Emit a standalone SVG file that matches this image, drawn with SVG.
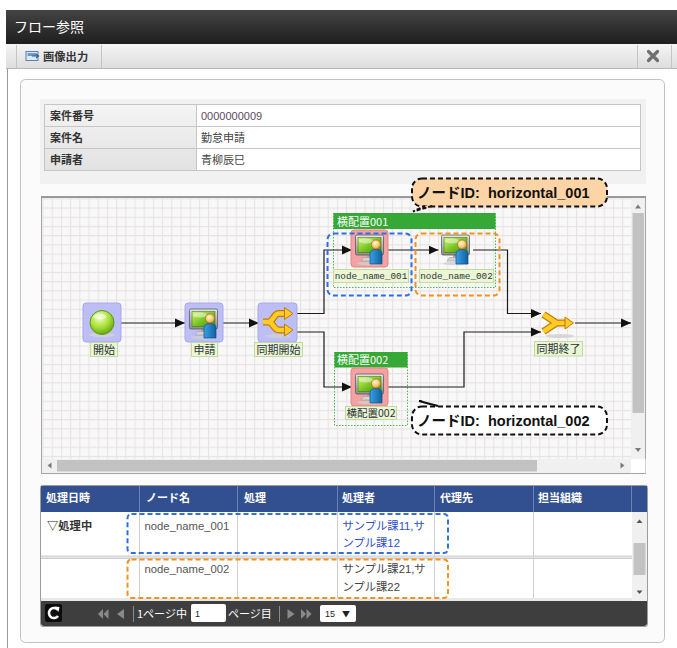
<svg xmlns="http://www.w3.org/2000/svg" width="677" height="648" viewBox="0 0 677 648">
<defs>
<style>
.jp{font-family:'Noto Sans CJK JP','Liberation Sans',sans-serif}
.ls{font-family:'Liberation Sans','Noto Sans CJK JP',sans-serif}
.mono{font-family:'Liberation Mono','DejaVu Sans Mono',monospace}
.pbox{fill:#bebef6;stroke:#a7a7ee;stroke-width:1}
.rbox{fill:#f2a2a2;stroke:#e58585;stroke-width:1}
.lbl{fill:#ebf6d2;stroke:#c4d9a2;stroke-width:1}
.lt{fill:#2b3340;text-anchor:middle}
.conn{fill:none;stroke:#1a1a1a;stroke-width:1.2}
.hdr{font-size:11px;font-weight:bold;fill:#fff}
.cell{font-size:11.3px}
.grn{fill:#35a835}
.dotc{fill:none;stroke:#4cbc4c;stroke-width:1;stroke-dasharray:1.5,1.5}
.sbt{fill:#f0f0f0}
.thumb{fill:#c2c2c2}
.sarr{fill:#7a7a7a}
</style>
<linearGradient id="gTitle" x1="0" y1="0" x2="0" y2="1"><stop offset="0" stop-color="#444"/><stop offset="1" stop-color="#1e1e1e"/></linearGradient>
<linearGradient id="gTool" x1="0" y1="0" x2="0" y2="1"><stop offset="0" stop-color="#f5f5f5"/><stop offset="1" stop-color="#dcdcdc"/></linearGradient>
<linearGradient id="gLab" x1="0" y1="0" x2="0" y2="1"><stop offset="0" stop-color="#f4f4f4"/><stop offset="1" stop-color="#e2e2e2"/></linearGradient>
<linearGradient id="gMon" x1="0" y1="0" x2="0" y2="1"><stop offset="0" stop-color="#e6e6e6"/><stop offset="1" stop-color="#8c8c8c"/></linearGradient>
<linearGradient id="gScr" x1="0" y1="0" x2="1" y2="1"><stop offset="0" stop-color="#d6f680"/><stop offset="0.5" stop-color="#7cc826"/><stop offset="1" stop-color="#3f8e10"/></linearGradient>
<linearGradient id="gBody" x1="0" y1="0" x2="1" y2="0"><stop offset="0" stop-color="#3aa0e6"/><stop offset="1" stop-color="#10609e"/></linearGradient>
<radialGradient id="gHead" cx="0.4" cy="0.35" r="0.7"><stop offset="0" stop-color="#fff4d8"/><stop offset="0.6" stop-color="#f8c872"/><stop offset="1" stop-color="#d88a20"/></radialGradient>
<radialGradient id="gBall" cx="0.4" cy="0.3" r="0.75"><stop offset="0" stop-color="#f2ffc0"/><stop offset="0.55" stop-color="#a6e036"/><stop offset="1" stop-color="#5e9e0e"/></radialGradient>
<pattern id="grid" patternUnits="userSpaceOnUse" x="42.5" y="198.3" width="9.2" height="9.2">
<rect width="9.2" height="9.2" fill="#f9f8f8"/>
<path d="M0 0.5 H9.2 M0.5 0 V9.2" stroke="#e8e3e3" stroke-width="1.1" fill="none"/>
</pattern>
<marker id="arr" viewBox="0 0 10 10" refX="10" refY="5" markerWidth="10" markerHeight="10" markerUnits="userSpaceOnUse" orient="auto"><path d="M0 0.5 L10 5 L0 9.5 Z" fill="#111"/></marker>
<g id="human">
<ellipse cx="19" cy="33.5" rx="13" ry="1.8" fill="#cfcfcf" opacity="0.8"/>
<path d="M10 31 L26 31 L23.5 27.5 L12.5 27.5 Z" fill="#d4d4d4" stroke="#9a9a9a" stroke-width="0.6"/>
<rect x="16" y="24" width="4" height="4" fill="#a8a8a8"/>
<rect x="4.5" y="5" width="28" height="20" rx="1.5" fill="url(#gMon)" stroke="#5a5a5a" stroke-width="0.8"/>
<rect x="7" y="7.5" width="23" height="15" fill="url(#gScr)" stroke="#3a6a10" stroke-width="0.5"/>
<ellipse cx="15" cy="11" rx="7" ry="2.5" fill="#fff" opacity="0.45"/>
<path d="M19 34 V24 Q19 19.5 25 19.5 Q31 19.5 31 24 V34 Z" fill="url(#gBody)" stroke="#0c4f85" stroke-width="0.7"/>
<circle cx="25" cy="14.5" r="4.6" fill="url(#gHead)" stroke="#b06a10" stroke-width="0.7"/>
</g>
</defs>

<!-- window -->
<rect x="0" y="0" width="677" height="648" fill="#ffffff"/>
<g id="titlebar">
<rect x="6" y="10" width="671" height="34" fill="url(#gTitle)"/>
<text x="14" y="32" class="jp" font-size="14" fill="#ffffff">フロー参照</text>
</g>
<g id="toolbar">
<rect x="6" y="44" width="671" height="25" fill="url(#gTool)"/>
<line x1="6" y1="68.5" x2="677" y2="68.5" stroke="#b8b8b8"/>
<line x1="16.5" y1="45" x2="16.5" y2="68" stroke="#c4c4c4"/>
<line x1="101.5" y1="45" x2="101.5" y2="68" stroke="#c4c4c4"/>
<rect x="26" y="51.5" width="12" height="9" fill="#dfe9f5" stroke="#5b7fb0" stroke-width="1"/>
<rect x="27.5" y="53" width="9" height="3" fill="#6e96cf"/>
<path d="M32 56 H38 M36 54 L38.5 56 L36 58" stroke="#2f5f9f" stroke-width="1.2" fill="none"/>
<text x="43" y="61" class="jp" font-size="11.3" font-weight="bold" fill="#333">画像出力</text>
<line x1="637.5" y1="45" x2="637.5" y2="68" stroke="#c4c4c4"/>
<line x1="671.5" y1="45" x2="671.5" y2="68" stroke="#c4c4c4"/>
<path d="M648.5 51.5 L657.5 60.5 M657.5 51.5 L648.5 60.5" stroke="#707070" stroke-width="3.2" stroke-linecap="round"/>
</g>
<line x1="7.5" y1="69" x2="7.5" y2="648" stroke="#9a9a9a"/>

<!-- panel -->
<rect x="20.5" y="79.5" width="644" height="563" rx="5" fill="#fbfbfc" stroke="#c2c2c2"/>

<g id="info">
<rect x="40" y="99" width="606" height="85" fill="#f1f1f1"/>
<rect x="44.5" y="104.5" width="596" height="66" fill="#ffffff" stroke="#c6c6c6"/>
<rect x="44.5" y="104.5" width="152" height="66" fill="url(#gLab)" stroke="#c6c6c6"/>
<line x1="44.5" y1="126.5" x2="640.5" y2="126.5" stroke="#c6c6c6"/>
<line x1="44.5" y1="148.5" x2="640.5" y2="148.5" stroke="#c6c6c6"/>
<g class="jp" font-size="11" font-weight="bold" fill="#333">
<text x="50" y="119.5">案件番号</text>
<text x="50" y="141.5">案件名</text>
<text x="50" y="163.5">申請者</text>
</g>
<g class="ls" font-size="11" fill="#444">
<text x="201" y="119.5" fill="#5a4a62">0000000009</text>
<text x="201" y="141.5">勤怠申請</text>
<text x="201" y="163.5">青柳辰巳</text>
</g>
</g>

<!-- flow area -->
<g id="flowframe">
<rect x="41.5" y="196.5" width="604" height="277" fill="url(#grid)" stroke="#a4a4a4"/>
<line x1="41" y1="197" x2="646" y2="197" stroke="#9a9a9a" stroke-width="2"/>
<rect x="631" y="198" width="14" height="261" class="sbt"/>
<rect x="632.5" y="213" width="11.5" height="200" class="thumb"/>
<path d="M635 208.5 L641 208.5 L638 204.5 Z" class="sarr"/>
<path d="M635 448 L641 448 L638 452 Z" class="sarr"/>
<rect x="42" y="459" width="589" height="14" class="sbt"/>
<rect x="57" y="460" width="480" height="11.5" class="thumb"/>
<path d="M51.5 462.5 L51.5 468.5 L47.5 465.5 Z" class="sarr"/>
<path d="M620.5 462.5 L620.5 468.5 L624.5 465.5 Z" class="sarr"/>
<rect x="631" y="459" width="14.5" height="14" fill="#ffffff"/>
</g>

<!-- containers -->
<g id="horizontal_001">
<rect x="333.5" y="213.5" width="162" height="74" class="dotc"/>
<rect x="333.5" y="213" width="162" height="16" class="grn"/>
<text x="337" y="225.5" class="jp" font-size="11" fill="#ffffff">横配置001</text>
</g>
<g id="horizontal_002">
<rect x="334.5" y="352.5" width="73" height="73" class="dotc"/>
<rect x="334.5" y="352" width="73" height="15.5" class="grn"/>
<text x="337" y="364" class="jp" font-size="11" fill="#ffffff">横配置002</text>
</g>

<!-- connectors -->
<g id="connectors">
<path class="conn" d="M121 323 H185" marker-end="url(#arr)"/>
<path class="conn" d="M221 323 H259" marker-end="url(#arr)"/>
<path class="conn" d="M296 313.5 H324 V250 H352" marker-end="url(#arr)"/>
<path class="conn" d="M296 332 H324 V387 H352" marker-end="url(#arr)"/>
<path class="conn" d="M387 250 H438.5" marker-end="url(#arr)"/>
<path class="conn" d="M473 250 H507.5 V313.5 H541" marker-end="url(#arr)"/>
<path class="conn" d="M387 387 H464 V332 H541" marker-end="url(#arr)"/>
<path class="conn" d="M575 323 H631" marker-end="url(#arr)"/>
</g>

<!-- nodes -->
<g id="n-start">
<rect x="83" y="303" width="38" height="39" rx="3" class="pbox"/>
<ellipse cx="102" cy="335" rx="13" ry="2" fill="#d4d4d4" opacity="0.8"/>
<circle cx="102" cy="322.5" r="12" fill="url(#gBall)" stroke="#5b9a12" stroke-width="1"/>
<ellipse cx="100" cy="316.5" rx="6.5" ry="3" fill="#ffffff" opacity="0.5"/>
<rect x="90.5" y="342.5" width="27" height="14" class="lbl"/>
<text x="104" y="353.5" class="jp lt" font-size="11">開始</text>
</g>

<g id="n-apply">
<rect x="185" y="303" width="38" height="39" rx="3" class="pbox"/>
<use href="#human" x="185" y="304"/>
<rect x="191.5" y="342.5" width="26" height="14" class="lbl"/>
<text x="204.5" y="353.5" class="jp lt" font-size="11">申請</text>
</g>

<g id="n-fork">
<rect x="258" y="303" width="39" height="39" rx="3" class="pbox"/>
<ellipse cx="278" cy="336" rx="13" ry="2" fill="#cfcfcf" opacity="0.8"/>
<path d="M263 322 H268 C274 322 273 313.5 279 313.5 H286 M268 322 C274 322 273 330 279 330 H286" fill="none" stroke="#c47a00" stroke-width="7"/>
<path d="M263 322 H268 C274 322 273 313.5 279 313.5 H286 M268 322 C274 322 273 330 279 330 H286" fill="none" stroke="#ffcb26" stroke-width="4.5"/>
<path d="M284.5 307.5 L293 313.5 L284.5 319.5 Z" fill="#ffcb26" stroke="#c47a00" stroke-width="1"/>
<path d="M284.5 324 L293 330 L284.5 336 Z" fill="#ffcb26" stroke="#c47a00" stroke-width="1"/>
<rect x="254.5" y="342.5" width="48" height="14" class="lbl"/>
<text x="278.5" y="353.5" class="jp lt" font-size="11">同期開始</text>
</g>

<g id="node_name_001">
<rect x="351" y="230" width="37" height="37" rx="3" class="rbox"/>
<use href="#human" x="351" y="230"/>
<rect x="333.5" y="269.5" width="75" height="13" class="lbl"/>
<text x="371" y="279" class="mono lt" font-size="9.3">node_name_001</text>
</g>

<g id="node_name_002">
<use href="#human" x="437" y="230"/>
<rect x="419.5" y="269.5" width="74" height="13" class="lbl"/>
<text x="456.5" y="279" class="mono lt" font-size="9.3">node_name_002</text>
</g>

<g id="n-h002">
<rect x="351" y="368" width="37" height="38" rx="3" class="rbox"/>
<use href="#human" x="351" y="369"/>
<rect x="345.5" y="406.5" width="51" height="13" class="lbl"/>
<text x="371" y="416.5" class="jp lt" font-size="10.5">横配置002</text>
</g>

<g id="n-join">
<ellipse cx="560" cy="336" rx="14" ry="2" fill="#cfcfcf" opacity="0.8"/>
<path d="M543.5 314.5 L556.5 323 M543.5 331.5 L556.5 323 H566" fill="none" stroke="#c47a00" stroke-width="7" stroke-linejoin="round"/>
<path d="M543.5 314.5 L556.5 323 M543.5 331.5 L556.5 323 H566" fill="none" stroke="#ffcb26" stroke-width="4.5" stroke-linejoin="round"/>
<path d="M565 317 L573.5 323 L565 329 Z" fill="#ffcb26" stroke="#c47a00" stroke-width="1"/>
<rect x="534.5" y="341.5" width="48" height="14.5" class="lbl"/>
<text x="558.5" y="352.5" class="jp lt" font-size="11">同期終了</text>
</g>

<!-- dashed highlight boxes -->
<rect x="327.5" y="233.5" width="84" height="62" rx="6" fill="none" stroke="#2f6fe0" stroke-width="2" stroke-dasharray="5,3"/>
<rect x="415.5" y="233.5" width="84" height="62" rx="6" fill="none" stroke="#f7901e" stroke-width="2" stroke-dasharray="5,3"/>

<!-- callouts -->
<g id="callout1">
<rect x="412" y="178.5" width="195" height="28" rx="10" fill="#fdd4a6" stroke="#111" stroke-width="2" stroke-dasharray="5,3"/>
<path d="M432 206 L413 211.5 L425 206" fill="#fdd4a6" stroke="#111" stroke-width="2" stroke-dasharray="4,2"/>
<text y="197.5" class="ls" font-size="14.5" font-weight="bold" fill="#111"><tspan x="417">ノードID:</tspan><tspan x="488">horizontal_001</tspan></text>
</g>
<g id="callout2">
<rect x="412" y="406.5" width="195" height="28" rx="10" fill="#ffffff" stroke="#111" stroke-width="2" stroke-dasharray="5,3"/>
<path d="M438 406 L419 401 L430 404" fill="none" stroke="#111" stroke-width="2"/>
<text y="425.5" class="ls" font-size="14.5" font-weight="bold" fill="#111"><tspan x="417">ノードID:</tspan><tspan x="488">horizontal_002</tspan></text>
</g>

<!-- history table -->
<g id="history">
<rect x="40.5" y="485.5" width="607" height="141" rx="2" fill="#ffffff" stroke="#9c9c9c"/>
<rect x="41" y="486" width="606" height="26" fill="#32508f"/>
<g stroke="#6a82b4" stroke-width="1">
<line x1="139.5" y1="486" x2="139.5" y2="512"/>
<line x1="237.5" y1="486" x2="237.5" y2="512"/>
<line x1="337.5" y1="486" x2="337.5" y2="512"/>
<line x1="434.5" y1="486" x2="434.5" y2="512"/>
<line x1="533.5" y1="486" x2="533.5" y2="512"/>
<line x1="631.5" y1="486" x2="631.5" y2="512"/>
</g>
<g class="jp hdr">
<text x="46" y="502">処理日時</text>
<text x="146" y="502">ノード名</text>
<text x="244" y="502">処理</text>
<text x="342" y="502">処理者</text>
<text x="440" y="502">代理先</text>
<text x="538" y="502">担当組織</text>
</g>
<rect x="41" y="556" width="591" height="2.5" fill="#e4e4e4"/>
<line x1="41" y1="556" x2="632" y2="556" stroke="#cfcfcf"/>
<line x1="41" y1="558.5" x2="632" y2="558.5" stroke="#cfcfcf"/>
<rect x="41" y="598" width="591" height="3" fill="#e8e8e8"/>
<g stroke="#cfcfcf" stroke-width="1">
<line x1="139.5" y1="512" x2="139.5" y2="598"/>
<line x1="237.5" y1="512" x2="237.5" y2="598"/>
<line x1="337.5" y1="512" x2="337.5" y2="598"/>
<line x1="434.5" y1="512" x2="434.5" y2="598"/>
<line x1="533.5" y1="512" x2="533.5" y2="598"/>
</g>
<rect x="632" y="512" width="15" height="89" class="sbt"/>
<rect x="633.5" y="543" width="12" height="32" class="thumb"/>
<path d="M636.5 523 L642.5 523 L639.5 519.5 Z" fill="#555"/>
<path d="M636.5 590.5 L642.5 590.5 L639.5 594 Z" fill="#555"/>
<text x="47" y="530" class="jp" font-size="11.3" font-weight="bold" fill="#333">▽処理中</text>
<text x="144.5" y="530" class="ls cell" fill="#555">node_name_001</text>
<text x="342.5" y="530" class="ls cell" fill="#2f4fc8">サンプル課11,サ</text>
<text x="342.5" y="546.5" class="ls cell" fill="#2f4fc8">ンプル課12</text>
<text x="144.5" y="573" class="ls cell" fill="#555">node_name_002</text>
<text x="342.5" y="573" class="ls cell" fill="#444">サンプル課21,サ</text>
<text x="342.5" y="590.5" class="ls cell" fill="#444">ンプル課22</text>
<rect x="127.5" y="514" width="320.5" height="39" rx="4" fill="none" stroke="#2f6fe0" stroke-width="2" stroke-dasharray="5,3"/>
<rect x="127.5" y="559.5" width="320.5" height="38.5" rx="4" fill="none" stroke="#f7901e" stroke-width="2" stroke-dasharray="5,3"/>
</g>

<g id="pager">
<path d="M41 601 H647 V623 Q647 626 644 626 H44 Q41 626 41 623 Z" fill="#3e3e3e"/>
<rect x="45" y="604" width="17" height="18" rx="2" fill="#0c0c0c"/>
<path d="M57.5 609.5 A5 5 0 1 0 58 616" fill="none" stroke="#ffffff" stroke-width="2.6"/>
<path d="M54.5 606.5 L59.5 607 L58.5 612 Z" fill="#ffffff"/>
<g fill="#8a8a8a">
<path d="M103 609 L103 619 L98 614 Z"/><path d="M108.5 609 L108.5 619 L103.5 614 Z"/>
<path d="M124 609 L124 619 L117 614 Z"/>
<path d="M287.5 609 L287.5 619 L294.5 614 Z"/>
<path d="M301 609 L301 619 L306 614 Z"/><path d="M306.5 609 L306.5 619 L311.5 614 Z"/>
</g>
<line x1="133.5" y1="606" x2="133.5" y2="622" stroke="#8a8a8a"/>
<line x1="279.5" y1="606" x2="279.5" y2="622" stroke="#8a8a8a"/>
<text x="137" y="618" class="jp" font-size="11" fill="#ffffff">1ページ中</text>
<rect x="191" y="604" width="35" height="18" rx="2" fill="#ffffff"/>
<text x="195" y="617" class="ls" font-size="9" fill="#222">1</text>
<text x="228" y="618" class="jp" font-size="11" fill="#ffffff">ページ目</text>
<rect x="320" y="605" width="36" height="17" rx="2" fill="#ffffff"/>
<text x="325" y="617" class="ls" font-size="9" fill="#222">15</text>
<text x="342" y="617" class="jp" font-size="8" fill="#222">▼</text>
</g>
</svg>
